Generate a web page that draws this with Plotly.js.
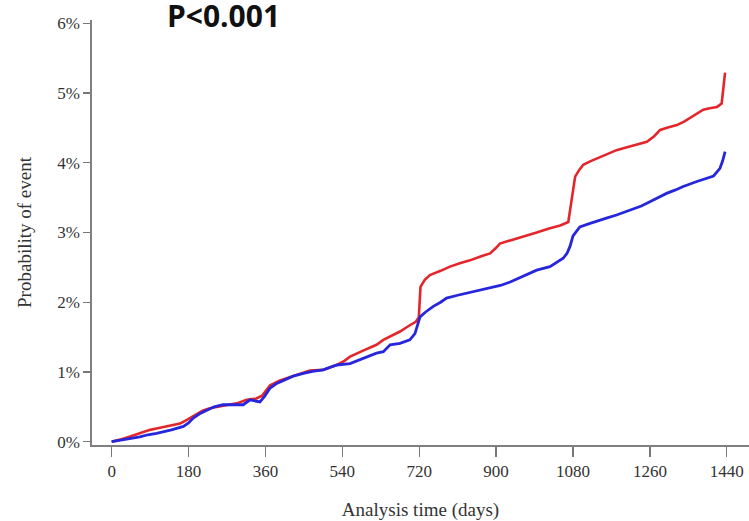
<!DOCTYPE html>
<html>
<head>
<meta charset="utf-8">
<script src="https://cdn.plot.ly/plotly-3.0.1.min.js"></script>
<style>html,body{margin:0;padding:0;background:#fff;}#chart{width:749px;height:521px;}</style>
</head>
<body>
<div id="chart"></div>
<script>
// Red group: analysis time (days) and probability of event (%)
const redDays = [0,20,45,74,90,105,130,160,172,183,200,214,230,246,270,293,316,339,352,362,371,394,415,433,464,495,510,527,545,558,590,620,636,652,675,698,712,719,721,723,733,745,770,792,815,839,865,886,900,909,935,964,995,1026,1050,1069,1075,1080,1085,1095,1104,1120,1136,1160,1182,1200,1221,1253,1270,1284,1300,1323,1340,1354,1370,1385,1400,1417,1428,1432,1436];
const redProb = [0,0.03,0.08,0.14,0.17,0.19,0.22,0.26,0.30,0.34,0.40,0.45,0.48,0.50,0.52,0.55,0.60,0.62,0.66,0.74,0.81,0.88,0.92,0.96,1.02,1.03,1.06,1.10,1.16,1.22,1.31,1.39,1.46,1.51,1.58,1.67,1.72,1.78,2.05,2.22,2.32,2.39,2.45,2.51,2.56,2.60,2.66,2.70,2.78,2.84,2.89,2.94,3.00,3.06,3.10,3.15,3.37,3.60,3.80,3.90,3.97,4.02,4.06,4.12,4.18,4.21,4.25,4.30,4.38,4.47,4.50,4.54,4.59,4.64,4.70,4.76,4.78,4.80,4.85,5.05,5.29];

// Blue group
const blueDays = [0,30,66,85,105,140,168,180,191,206,222,240,261,285,308,324,347,358,371,385,402,425,449,470,495,527,558,590,620,636,652,675,698,710,716,722,735,753,770,784,810,831,860,886,910,933,960,995,1026,1050,1057,1066,1073,1080,1089,1096,1120,1143,1160,1182,1214,1240,1260,1280,1299,1320,1338,1370,1390,1409,1424,1430,1436];
const blueProb = [0,0.03,0.07,0.10,0.12,0.17,0.22,0.27,0.34,0.40,0.45,0.50,0.53,0.53,0.53,0.60,0.57,0.65,0.77,0.83,0.88,0.94,0.98,1.01,1.03,1.10,1.12,1.20,1.27,1.29,1.39,1.41,1.46,1.55,1.68,1.79,1.86,1.94,2.00,2.06,2.10,2.13,2.17,2.20,2.24,2.29,2.36,2.46,2.51,2.60,2.63,2.70,2.80,2.95,3.03,3.08,3.13,3.18,3.21,3.25,3.32,3.38,3.44,3.50,3.56,3.61,3.66,3.73,3.77,3.81,3.92,4.02,4.16];

const xTicks = [0,180,360,540,720,900,1080,1260,1440];
const yTicks = [0,1,2,3,4,5,6];
const yTickText = ['0%','1%','2%','3%','4%','5%','6%'];

const traces = [
  {x: redDays, y: redProb, type: 'scatter', mode: 'lines', line: {color: '#e3262b', width: 2.6}, hoverinfo: 'skip'},
  {x: blueDays, y: blueProb, type: 'scatter', mode: 'lines', line: {color: '#2626dc', width: 2.8}, hoverinfo: 'skip'}
];

const tickFont = {family: 'Liberation Serif, Times New Roman, serif', size: 17, color: '#333333'};
const titleFont = {family: 'Liberation Serif, Times New Roman, serif', size: 19, color: '#333333'};

const layout = {
  width: 749, height: 521,
  margin: {l: 92, r: 0, t: 20, b: 76, pad: 0},
  paper_bgcolor: '#ffffff', plot_bgcolor: '#ffffff',
  showlegend: false,
  title: {
    text: '<b>P<0.001</b>',
    font: {family: 'Open Sans, Liberation Sans, sans-serif', size: 30, color: '#111111'},
    xref: 'container', x: 223.5/749, xanchor: 'center',
    yref: 'container', y: 1 - 16/521, yanchor: 'middle'
  },
  xaxis: {
    range: [-46, 1492],
    tickmode: 'array', tickvals: xTicks,
    ticks: 'outside', ticklen: 10, tickwidth: 1.3, tickcolor: '#777777',
    showline: true, linecolor: '#808080', linewidth: 1.6,
    showgrid: false, zeroline: false,
    tickfont: tickFont,
    title: {text: 'Analysis time (days)', font: titleFont, standoff: 22},
    fixedrange: true
  },
  yaxis: {
    range: [-0.047, 6.046],
    tickmode: 'array', tickvals: yTicks, ticktext: yTickText,
    ticks: 'outside', ticklen: 7, tickwidth: 1.3, tickcolor: '#777777',
    showline: true, linecolor: '#808080', linewidth: 1.6,
    showgrid: false, zeroline: false,
    tickfont: tickFont,
    title: {text: 'Probability of event', font: titleFont, standoff: 20},
    fixedrange: true
  }
};

Plotly.newPlot('chart', traces, layout, {displayModeBar: false, staticPlot: true});
</script>
</body>
</html>
